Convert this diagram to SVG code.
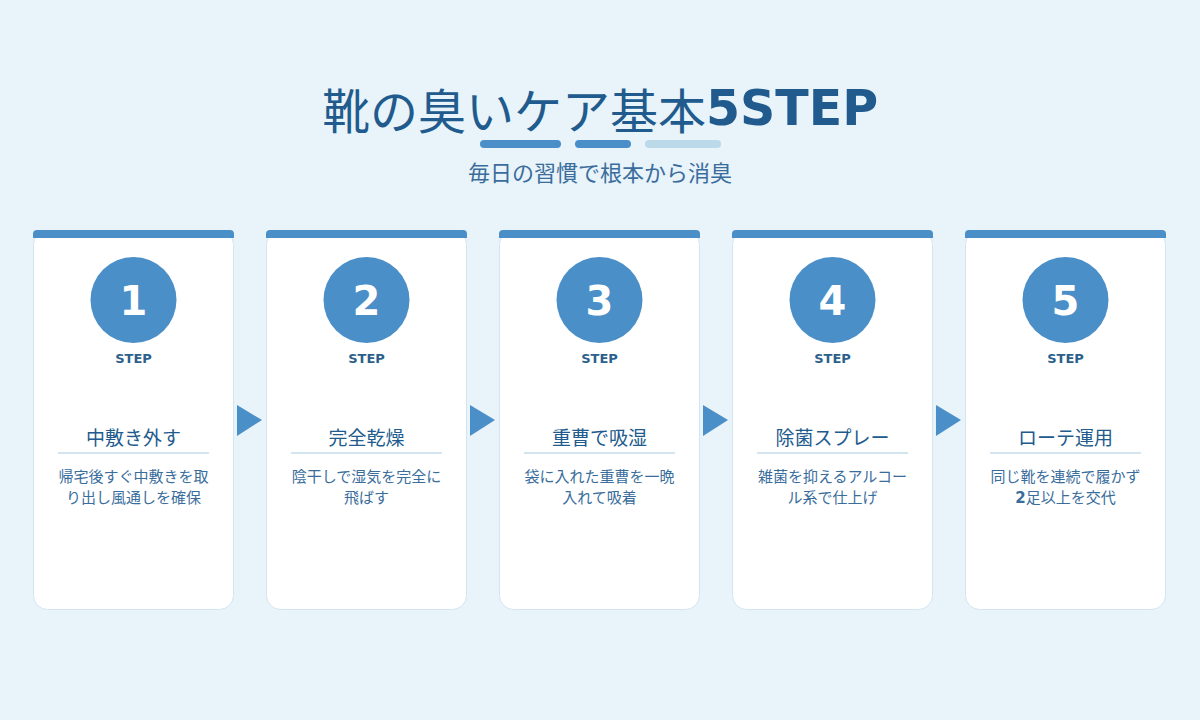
<svg xmlns="http://www.w3.org/2000/svg" width="1200" height="720" viewBox="0 0 1200 720">
<style>
.jp{font-family:"Noto Sans CJK JP","DejaVu Sans",sans-serif}
.title{font-size:48px;fill:#215b8d}
.sub{font-size:22px;fill:#3a6d9c;text-anchor:middle}
.card{fill:#ffffff;stroke:#d3e5f1;stroke-width:1}
.bar{fill:#4a8fc8}
.circ{fill:#4a8fc8}
.num{font-family:"DejaVu Sans",sans-serif;font-weight:bold;font-size:40px;fill:#ffffff;text-anchor:middle}
.step{font-family:"DejaVu Sans",sans-serif;font-weight:bold;font-size:13px;fill:#2c5f8c;text-anchor:middle}
.h{font-size:19px;fill:#215b8d;text-anchor:middle}
.div{stroke:#d3e5f1;stroke-width:2}
.d{font-size:15px;fill:#3a6d9c;text-anchor:middle}
.arr{fill:#4a8fc8}
</style>
<rect width="1200" height="720" fill="#e8f3fa"/>
<g id="header">
<text x="600" y="129" text-anchor="middle" class="jp title">靴の臭いケア基本<tspan font-family="DejaVu Sans,sans-serif" font-weight="bold" font-size="49" dy="-4">5STEP</tspan></text>
<rect x="480" y="140" width="81" height="8" rx="4" fill="#4a8fc8"/>
<rect x="575" y="140" width="56" height="8" rx="4" fill="#4a8fc8"/>
<rect x="645" y="140" width="76" height="8" rx="4" fill="#bcd9ea"/>
<text x="600" y="181" class="jp sub">毎日の習慣で根本から消臭</text>
</g>
<g id="connectors">
<polygon class="arr" points="237,405 262,420 237,436"/>
<polygon class="arr" points="470,405 495,420 470,436"/>
<polygon class="arr" points="703,405 728,420 703,436"/>
<polygon class="arr" points="936,405 961,420 936,436"/>
</g>
<g id="step1" transform="translate(33,0)">
<rect class="card" x="0.5" y="230.5" width="200" height="379" rx="14"/>
<path class="bar" d="M0,238 V234 Q0,230 4,230 H197 Q201,230 201,234 V238 Z"/>
<circle class="circ" cx="100.5" cy="300" r="43"/>
<text class="num" x="100.5" y="315">1</text>
<text class="step" x="100.5" y="363">STEP</text>
<text class="jp h" x="100.5" y="445">中敷き外す</text>
<line class="div" x1="25" y1="453" x2="176" y2="453"/>
<text class="jp d" x="100.5" y="482">帰宅後すぐ中敷きを取</text>
<text class="jp d" x="100.5" y="503">り出し風通しを確保</text>
</g>
<g id="step2" transform="translate(266,0)">
<rect class="card" x="0.5" y="230.5" width="200" height="379" rx="14"/>
<path class="bar" d="M0,238 V234 Q0,230 4,230 H197 Q201,230 201,234 V238 Z"/>
<circle class="circ" cx="100.5" cy="300" r="43"/>
<text class="num" x="100.5" y="315">2</text>
<text class="step" x="100.5" y="363">STEP</text>
<text class="jp h" x="100.5" y="445">完全乾燥</text>
<line class="div" x1="25" y1="453" x2="176" y2="453"/>
<text class="jp d" x="100.5" y="482">陰干しで湿気を完全に</text>
<text class="jp d" x="100.5" y="503">飛ばす</text>
</g>
<g id="step3" transform="translate(499,0)">
<rect class="card" x="0.5" y="230.5" width="200" height="379" rx="14"/>
<path class="bar" d="M0,238 V234 Q0,230 4,230 H197 Q201,230 201,234 V238 Z"/>
<circle class="circ" cx="100.5" cy="300" r="43"/>
<text class="num" x="100.5" y="315">3</text>
<text class="step" x="100.5" y="363">STEP</text>
<text class="jp h" x="100.5" y="445">重曹で吸湿</text>
<line class="div" x1="25" y1="453" x2="176" y2="453"/>
<text class="jp d" x="100.5" y="482">袋に入れた重曹を一晩</text>
<text class="jp d" x="100.5" y="503">入れて吸着</text>
</g>
<g id="step4" transform="translate(732,0)">
<rect class="card" x="0.5" y="230.5" width="200" height="379" rx="14"/>
<path class="bar" d="M0,238 V234 Q0,230 4,230 H197 Q201,230 201,234 V238 Z"/>
<circle class="circ" cx="100.5" cy="300" r="43"/>
<text class="num" x="100.5" y="315">4</text>
<text class="step" x="100.5" y="363">STEP</text>
<text class="jp h" x="100.5" y="445">除菌スプレー</text>
<line class="div" x1="25" y1="453" x2="176" y2="453"/>
<text class="jp d" x="100.5" y="482">雑菌を抑えるアルコー</text>
<text class="jp d" x="100.5" y="503">ル系で仕上げ</text>
</g>
<g id="step5" transform="translate(965,0)">
<rect class="card" x="0.5" y="230.5" width="200" height="379" rx="14"/>
<path class="bar" d="M0,238 V234 Q0,230 4,230 H197 Q201,230 201,234 V238 Z"/>
<circle class="circ" cx="100.5" cy="300" r="43"/>
<text class="num" x="100.5" y="315">5</text>
<text class="step" x="100.5" y="363">STEP</text>
<text class="jp h" x="100.5" y="445">ローテ運用</text>
<line class="div" x1="25" y1="453" x2="176" y2="453"/>
<text class="jp d" x="100.5" y="482">同じ靴を連続で履かず</text>
<text class="jp d" x="100.5" y="503"><tspan font-family="DejaVu Sans,sans-serif" font-weight="bold">2</tspan>足以上を交代</text>
</g>
</svg>
